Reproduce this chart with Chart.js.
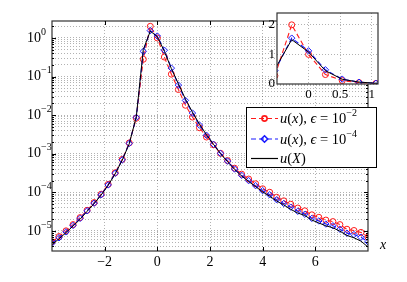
<!DOCTYPE html>
<html>
<head>
<meta charset="utf-8">
<script src="https://cdn.jsdelivr.net/npm/chart.js@4.4.0/dist/chart.umd.min.js"></script>
<style>
  html, body { margin: 0; padding: 0; background: #fff; }
  #wrap { position: relative; width: 407px; height: 282px; }
  #wrap canvas { position: absolute; left: 0; top: 0; }
</style>
</head>
<body>
<div id="wrap">
  <canvas id="main" width="407" height="282"></canvas>
  <canvas id="inset" width="407" height="282"></canvas>
</div>
<script>
// grid nodes (x) and the three solutions
const X_NODES = [-4, -3.733, -3.467, -3.2, -2.933, -2.667, -2.4, -2.133, -1.867, -1.6, -1.333, -1.067,
  -0.8, -0.533, -0.267, 0, 0.267, 0.533, 0.8, 1.067, 1.333, 1.6, 1.867, 2.133, 2.4, 2.667, 2.933,
  3.2, 3.467, 3.733, 4, 4.267, 4.533, 4.8, 5.067, 5.333, 5.6, 5.867, 6.133, 6.4, 6.667, 6.933,
  7.2, 7.467, 7.733, 8];
const U_EPS2 = [5.2e-6, 7.1e-6, 1.0e-5, 1.45e-5, 2.2e-5, 3.4e-5, 5.4e-5, 8.9e-5, 1.6e-4, 3.2e-4, 7.1e-4, 1.9e-3,
  8.3e-3, 0.28, 2.0, 1.0, 0.32, 0.115, 0.046, 0.018, 8.9e-3, 4.7e-3, 2.7e-3, 1.7e-3, 1.02e-3, 6.6e-4, 4.2e-4,
  2.95e-4, 2.2e-4, 1.66e-4, 1.23e-4, 1.0e-4, 7.4e-5, 6.0e-5, 4.9e-5, 3.9e-5, 3.3e-5, 2.6e-5, 2.24e-5, 1.9e-5,
  1.74e-5, 1.45e-5, 1.1e-5, 1.02e-5, 9.1e-6, 6.9e-6];
const U_EPS4 = [4.8e-6, 6.6e-6, 9.4e-6, 1.38e-5, 2.1e-5, 3.3e-5, 5.2e-5, 8.6e-5, 1.55e-4, 3.1e-4, 6.9e-4, 1.85e-3,
  8.7e-3, 0.45, 1.55, 1.12, 0.48, 0.165, 0.06, 0.024, 0.0113, 5.5e-3, 3.0e-3, 1.75e-3, 1.02e-3, 6.4e-4, 4.0e-4,
  2.75e-4, 2.0e-4, 1.48e-4, 1.1e-4, 8.6e-5, 6.4e-5, 5.1e-5, 4.1e-5, 3.2e-5, 2.7e-5, 2.1e-5, 1.8e-5, 1.5e-5,
  1.35e-5, 1.1e-5, 8.7e-6, 8.0e-6, 6.8e-6, 5.2e-6];
const U_X = [4.4e-6, 6.2e-6, 9.0e-6, 1.33e-5, 2.0e-5, 3.2e-5, 5.1e-5, 8.5e-5, 1.52e-4, 3.0e-4, 6.8e-4, 1.8e-3,
  9.0e-3, 0.5, 1.5, 1.08, 0.45, 0.16, 0.065, 0.026, 0.012, 5.8e-3, 3.1e-3, 1.75e-3, 1.0e-3, 6.2e-4, 3.9e-4,
  2.65e-4, 1.9e-4, 1.4e-4, 1.02e-4, 7.9e-5, 5.9e-5, 4.7e-5, 3.6e-5, 2.9e-5, 2.5e-5, 1.9e-5, 1.6e-5, 1.35e-5,
  1.2e-5, 9.8e-6, 7.6e-6, 6.6e-6, 5.4e-6, 3.8e-6];

const X_TICKS = [-2, 0, 2, 4, 6];
const Y_DECADES = [1, 1e-1, 1e-2, 1e-3, 1e-4, 1e-5];
const Y_MINOR = [2, 1, 0.9, 0.8, 0.7, 0.6, 0.5, 0.4, 0.3, 0.2, 0.1,
  0.09, 0.08, 0.07, 0.06, 0.05, 0.04, 0.03, 0.02, 0.01,
  9e-3, 8e-3, 7e-3, 6e-3, 5e-3, 4e-3, 3e-3, 2e-3, 1e-3,
  9e-4, 8e-4, 7e-4, 6e-4, 5e-4, 4e-4, 3e-4, 2e-4, 1e-4,
  9e-5, 8e-5, 7e-5, 6e-5, 5e-5, 4e-5, 3e-5, 2e-5, 1e-5,
  9e-6, 8e-6, 7e-6, 6e-6, 5e-6, 4e-6];
const INSET_X_TICKS = [0, 0.5, 1];
const INSET_Y_TICKS = [0, 1, 2];

const SERIF = '"Liberation Serif", "DejaVu Serif", serif';
const GRID_COLOR = 'rgba(0,0,0,0.3)';

const pts = ys => X_NODES.map((x, i) => ({ x, y: ys[i] }));
const fmt = v => v < 0 ? '\u2212' + Math.abs(v) : String(v);

function makeDatasets() {
  return [
    { label: 'u(X)', data: pts(U_X), borderColor: '#000', borderWidth: 1, pointRadius: 0, order: 0 },
    { label: 'eps4', data: pts(U_EPS4), borderColor: '#1a1aff', borderWidth: 1.1, borderDash: [5, 3],
      pointStyle: 'rectRot', pointRadius: 3.2, pointBorderColor: '#1a1aff', pointBackgroundColor: 'rgba(0,0,0,0)',
      pointBorderWidth: 1, order: 1 },
    { label: 'eps2', data: pts(U_EPS2), borderColor: '#ff1a1a', borderWidth: 1.1, borderDash: [5, 3],
      pointStyle: 'circle', pointRadius: 3, pointBorderColor: '#ff1a1a', pointBackgroundColor: 'rgba(0,0,0,0)',
      pointBorderWidth: 1, order: 2 }
  ];
}

// text with italic / superscript pieces
function drawRich(ctx, parts, x, y, size) {
  let cx = x;
  parts.forEach(([t, st]) => {
    if (st === 's') { ctx.font = `${Math.round(size * 0.7)}px ${SERIF}`; ctx.fillText(t, cx, y - size * 0.42); }
    else { ctx.font = `${st === 'i' ? 'italic ' : ''}${size}px ${SERIF}`; ctx.fillText(t, cx, y); }
    cx += ctx.measureText(t).width;
  });
}

const LEGEND_ROWS = [
  { color: '#ff1a1a', marker: 'circle', dash: true,
    parts: [['u', 'i'], ['(', 'r'], ['x', 'i'], ['), ', 'r'], ['\u03f5', 'i'], [' = 10', 'r'], ['\u22122', 's']] },
  { color: '#1a1aff', marker: 'diamond', dash: true,
    parts: [['u', 'i'], ['(', 'r'], ['x', 'i'], ['), ', 'r'], ['\u03f5', 'i'], [' = 10', 'r'], ['\u22124', 's']] },
  { color: '#000', marker: null, dash: false,
    parts: [['u', 'i'], ['(', 'r'], ['X', 'i'], [')', 'r']] }
];

function drawFrame(ctx, a) {
  ctx.save();
  ctx.strokeStyle = '#333'; ctx.lineWidth = 1.2; ctx.setLineDash([]);
  ctx.strokeRect(a.left, a.top, a.right - a.left, a.bottom - a.top);
  ctx.restore();
}

const mainFrame = {
  id: 'mainFrame',
  afterDatasetsDraw(chart) {
    const ctx = chart.ctx, a = chart.chartArea, xs = chart.scales.x, ys = chart.scales.y;
    drawFrame(ctx, a);
    ctx.save(); ctx.strokeStyle = '#000'; ctx.lineWidth = 1;
    ctx.beginPath();
    X_TICKS.forEach(v => {
      const p = Math.round(xs.getPixelForValue(v)) + 0.5;
      ctx.moveTo(p, a.bottom); ctx.lineTo(p, a.bottom - 4);
      ctx.moveTo(p, a.top); ctx.lineTo(p, a.top + 4);
    });
    Y_MINOR.forEach(v => {
      const p = Math.round(ys.getPixelForValue(v)) + 0.5;
      const len = Y_DECADES.includes(v) ? 4 : 2;
      ctx.moveTo(a.left, p); ctx.lineTo(a.left + len, p);
      ctx.moveTo(a.right, p); ctx.lineTo(a.right - len, p);
    });
    ctx.stroke(); ctx.restore();
  },
  afterDraw(chart) {
    const ctx = chart.ctx, a = chart.chartArea, xs = chart.scales.x, ys = chart.scales.y;
    ctx.save();
    ctx.fillStyle = '#000'; ctx.textBaseline = 'middle';
    ctx.font = `14px ${SERIF}`; ctx.textAlign = 'center';
    X_TICKS.forEach(v => ctx.fillText(fmt(v), xs.getPixelForValue(v), a.bottom + 11));
    ctx.textAlign = 'left';
    Y_DECADES.forEach(v => {
      const e = Math.round(Math.log10(v));
      drawRich(ctx, [['10', 'r'], [e === 0 ? '0' : '\u2212' + (-e), 's']], 27, ys.getPixelForValue(v), 14);
    });
    ctx.font = `italic 14px ${SERIF}`;
    ctx.fillText('x', a.right + 12, a.bottom - 6);

    // legend
    const L = { x: 246.5, y: 107.5, w: 130, h: 60 };
    ctx.fillStyle = '#fff'; ctx.fillRect(L.x, L.y, L.w, L.h);
    ctx.strokeStyle = '#000'; ctx.lineWidth = 1; ctx.strokeRect(L.x, L.y, L.w, L.h);
    const rowY = [118.5, 139, 158.5];
    LEGEND_ROWS.forEach((r, i) => {
      const y = rowY[i];
      ctx.strokeStyle = r.color; ctx.lineWidth = 1.2;
      ctx.setLineDash(r.dash ? [5, 3] : []);
      ctx.beginPath(); ctx.moveTo(251, y); ctx.lineTo(278, y); ctx.stroke();
      ctx.setLineDash([]);
      if (r.marker === 'circle') { ctx.beginPath(); ctx.arc(264.5, y, 2.6, 0, Math.PI * 2); ctx.lineWidth = 1.6; ctx.stroke(); }
      if (r.marker === 'diamond') {
        ctx.beginPath(); ctx.moveTo(264.5, y - 3.2); ctx.lineTo(267.7, y); ctx.lineTo(264.5, y + 3.2); ctx.lineTo(261.3, y);
        ctx.closePath(); ctx.lineWidth = 1.6; ctx.stroke();
      }
      ctx.fillStyle = '#000';
      drawRich(ctx, r.parts, 280, y + 1, 14.5);
    });
    ctx.restore();
  }
};

const gridOpts = { color: GRID_COLOR, lineWidth: 1, drawTicks: false };
const borderOpts = { display: false, dash: [1, 2] };

new Chart(document.getElementById('main'), {
  type: 'line',
  data: { datasets: makeDatasets() },
  options: {
    responsive: false, animation: false, devicePixelRatio: 1,
    layout: { padding: { left: 52, top: 21, right: 39, bottom: 31 } },
    plugins: { legend: { display: false }, tooltip: { enabled: false } },
    scales: {
      x: { type: 'linear', min: -4, max: 8, ticks: { display: false }, grid: gridOpts, border: borderOpts,
        afterBuildTicks: s => { s.ticks = X_TICKS.map(v => ({ value: v })); } },
      y: { type: 'logarithmic', min: 3e-6, max: 2.75, ticks: { display: false }, grid: gridOpts, border: borderOpts,
        afterBuildTicks: s => { s.ticks = Y_MINOR.map(v => ({ value: v })); } }
    }
  },
  plugins: [mainFrame]
});

const insetFrame = {
  id: 'insetFrame',
  beforeDraw(chart) {
    const ctx = chart.ctx, a = chart.chartArea;
    ctx.save(); ctx.fillStyle = '#fff'; ctx.fillRect(a.left, a.top, a.right - a.left, a.bottom - a.top); ctx.restore();
  },
  afterDatasetsDraw(chart) { drawFrame(chart.ctx, chart.chartArea); },
  afterDraw(chart) {
    const ctx = chart.ctx, a = chart.chartArea, xs = chart.scales.x, ys = chart.scales.y;
    ctx.save(); ctx.fillStyle = '#000'; ctx.textBaseline = 'middle'; ctx.font = `13px ${SERIF}`;
    ctx.textAlign = 'center';
    INSET_X_TICKS.forEach(v => ctx.fillText(String(v), xs.getPixelForValue(v), a.bottom + 11));
    ctx.textAlign = 'right';
    INSET_Y_TICKS.forEach(v => ctx.fillText(String(v), a.left - 2, ys.getPixelForValue(v)));
    ctx.restore();
  }
};

new Chart(document.getElementById('inset'), {
  type: 'line',
  data: { datasets: makeDatasets() },
  options: {
    responsive: false, animation: false, devicePixelRatio: 1,
    layout: { padding: { left: 277, top: 13, right: 29, bottom: 198 } },
    plugins: { legend: { display: false }, tooltip: { enabled: false } },
    scales: {
      x: { type: 'linear', min: -0.5, max: 1.1, ticks: { display: false }, grid: gridOpts, border: borderOpts,
        afterBuildTicks: s => { s.ticks = INSET_X_TICKS.map(v => ({ value: v })); } },
      y: { type: 'linear', min: 0, max: 2.4, ticks: { display: false }, grid: gridOpts, border: borderOpts,
        afterBuildTicks: s => { s.ticks = INSET_Y_TICKS.map(v => ({ value: v })); } }
    }
  },
  plugins: [insetFrame]
});
</script>
</body>
</html>
